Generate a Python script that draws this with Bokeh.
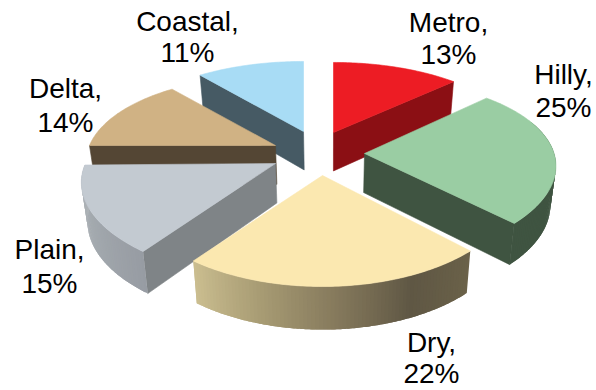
from bokeh.plotting import figure
from bokeh.models import ColumnDataSource
from bokeh.core.properties import value
from bokeh.embed import file_html
from bokeh.resources import INLINE
import math

# Share of each region, clockwise from twelve o'clock
regions = ["Metro", "Hilly", "Dry", "Plain", "Delta", "Coastal"]
shares = [13, 25, 22, 15, 14, 11]

# Slice appearance
top_colors = ["#ED1C24", "#9ACDA3", "#FBE8B0", "#C3CAD1", "#D0B284", "#A8DCF5"]
cut_colors = ["#8B0F14", "#3F5441", "#6B6249", "#7F8487", "#544634", "#465A64"]
rim_stops = {
    "Hilly": ["#3F5441", "#3F5441"],
    "Dry": ["#CBBE90", "#A89C74", "#85795C", "#5F5744", "#6B6249"],
    "Plain": ["#979CA3", "#A4AAAF", "#B0B5B9"],
}

# Where each slice's tip sits once the pie is pulled apart, its size,
# and how far its rim is nudged away from the tip
tip_x = [333, 364, 322, 275, 275, 303]
tip_y = [132, 153, 175, 163, 145, 131]
rim_scale = [1.0, 1.0, 1.0, 1.025, 1.0, 1.0]
rim_dx = [0, 2, 0, 0, 0, 0]
rim_dy = [0, -4.5, 1, 1.5, 0, 0]

# Perspective of the pie plane and of the extruded wall
SPAN_X, SPAN_Y, FORE_X, FORE_Y = 186, 85.6, 0.19, 0.222
WALL, WALL_GROW, VANISH_X, VANISH_PULL = 39, 0.03, 330, 0.025

# Label placement: centre x and the middle height of its two lines
label_x = [448, 563, 431, 49, 65, 187]
label_y1 = [22, 74, 342, 249, 88, 21]
label_y2 = [54, 107, 373, 283, 122, 52]

p = figure(width=596, height=390, x_range=(0, 596), y_range=(390, 0),
           output_backend="svg", toolbar_location=None, min_border=0)
p.axis.visible = False
p.grid.visible = False
p.outline_line_color = None


def rim_point(i, deg):
    a = math.radians(deg)
    return (tip_x[i] + rim_dx[i] + rim_scale[i] * SPAN_X * math.sin(a) / (1 + FORE_X * math.cos(a)),
            tip_y[i] + rim_dy[i] - rim_scale[i] * SPAN_Y * math.cos(a) / (1 + FORE_Y * math.cos(a)))


def lowered(pt):
    return (pt[0] + (VANISH_X - pt[0]) * VANISH_PULL,
            pt[1] + WALL + WALL_GROW * (pt[1] - 150))


def arc(i, a0, a1, step=1.0):
    n = max(2, int(abs(a1 - a0) / step))
    return [rim_point(i, a0 + (a1 - a0) * k / n) for k in range(n + 1)]


def fill(points, color, edge=0.6):
    p.patch([q[0] for q in points], [q[1] for q in points],
            fill_color=color, line_color=color if edge else None,
            line_width=edge or 1, line_join="round")


def lerp_color(stops, f):
    f = min(max(f, 0), 1) * (len(stops) - 1)
    i = min(int(f), len(stops) - 2)
    t = f - i
    a = [int(stops[i][j:j + 2], 16) for j in (1, 3, 5)]
    b = [int(stops[i + 1][j:j + 2], 16) for j in (1, 3, 5)]
    return "#%02x%02x%02x" % tuple(round(u + (v - u) * t) for u, v in zip(a, b))


# Angular extent of each slice from its share
extent = {}
start = 0.0
for name, share in zip(regions, shares):
    extent[name] = (start, start + share * 3.6)
    start += share * 3.6

slices = {name: i for i, name in enumerate(regions)}

# Back-to-front painting order
for name in ["Coastal", "Metro", "Delta", "Hilly", "Plain", "Dry"]:
    i = slices[name]
    a0, a1 = extent[name]
    tip = (tip_x[i], tip_y[i])

    # Cut faces that turn toward the viewer
    faces = {"Metro": [a1], "Hilly": [a1], "Plain": [a0],
             "Delta": [a0], "Coastal": [a0], "Dry": []}[name]
    for deg in faces:
        outer = rim_point(i, deg)
        fill([tip, outer, lowered(outer), lowered(tip)], cut_colors[i])

    # Curved outer wall, built of overlapping shaded bands
    if name in rim_stops:
        r0 = max(a0, 70) if name == "Hilly" else a0
        r1 = a1
        n = int(r1 - r0)
        for b in range(n):
            d0 = r0 + (r1 - r0) * b / n
            d1 = min(r1, r0 + (r1 - r0) * (b + 2) / n)
            band = arc(i, d0, d1, 0.5)
            color_f = (b + 0.5) / n
            if name == "Dry":
                color_f = 1 - color_f
            fill(band + [lowered(q) for q in reversed(band)],
                 lerp_color(rim_stops[name], color_f), edge=0)

    # Top surface
    fill([tip] + arc(i, a0, a1), top_colors[i])

line1 = [f"{name}," for name in regions]
line2 = [f"{share}%" for share in shares]
src1 = ColumnDataSource(dict(x=label_x, y=label_y1, t=line1))
src2 = ColumnDataSource(dict(x=label_x, y=label_y2, t=line2))
for src in (src1, src2):
    p.text("x", "y", text="t", source=src, text_font=value("Liberation Sans"),
           text_font_size="28px", text_color="#000000",
           text_align="center", text_baseline="middle")

open("out.html", "w").write(file_html(p, INLINE))
